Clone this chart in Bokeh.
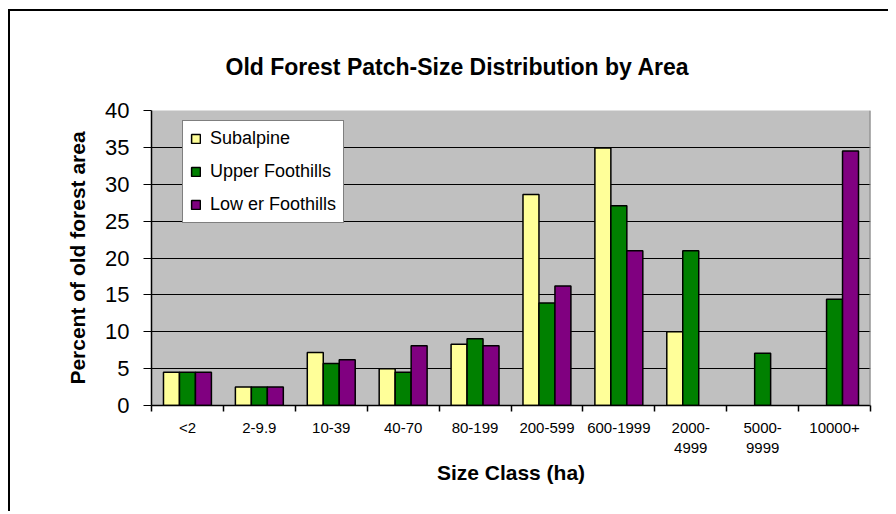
from bokeh.plotting import figure
from bokeh.models import FixedTicker, Legend, LegendItem, ColumnDataSource, Span
from bokeh.embed import file_html
from bokeh.resources import INLINE

categories = ["<2", "2-9.9", "10-39", "40-70", "80-199", "200-599", "600-1999",
              "2000-\n4999", "5000-\n9999", "10000+"]
subalpine = [4.5, 2.5, 7.2, 5.0, 8.3, 28.6, 34.9, 10.0, 0, 0]
upper_foothills = [4.5, 2.5, 5.7, 4.5, 9.05, 13.9, 27.1, 21.0, 7.1, 14.4]
lower_foothills = [4.5, 2.5, 6.2, 8.1, 8.1, 16.2, 21.0, 0, 0, 34.5]
series_names = ["Subalpine", "Upper Foothills", "Low er Foothills"]
series_colors = ["#FFFF99", "#008000", "#800080"]
y_ticks = [0, 5, 10, 15, 20, 25, 30, 35, 40]

FONT = "Liberation Sans"

p = figure(width=878, height=500, output_backend="svg", toolbar_location=None,
           x_range=(0, len(categories)), y_range=(0, 40),
           min_border_left=141, min_border_right=18, min_border_top=99,
           min_border_bottom=106)
p.frame_width = 719
p.frame_height = 295
p.styles = {"border-top": "2px solid black", "border-left": "2px solid black",
            "margin-left": "8px", "margin-top": "9px"}

p.background_fill_color = "#C0C0C0"
p.border_fill_color = "white"
p.outline_line_color = None

p.title.text = "Old Forest Patch-Size Distribution by Area"
p.title.align = "left"
p.title.offset = 74
p.title.text_font = FONT
p.title.text_font_size = "23px"
p.title.text_font_style = "bold"
p.title.text_color = "black"
p.title.standoff = 61

# right edge shading of plot area
p.add_layout(Span(location=len(categories), dimension="height",
                  line_color="#808080", line_width=2))

bar_w = 0.2222
offsets = [-bar_w, 0.0, bar_w]
series = [subalpine, upper_foothills, lower_foothills]
items = []
for name, vals, col, off in zip(series_names, series, series_colors, offsets):
    xs = [i + 0.5 + off for i, v in enumerate(vals) if v > 0]
    ys = [v for v in vals if v > 0]
    src = ColumnDataSource(dict(x=xs, top=ys))
    r = p.vbar(x="x", top="top", width=bar_w, bottom=0, source=src,
               fill_color=col, line_color="black", line_width=1.5)
    items.append(LegendItem(label=name, renderers=[r]))

legend = Legend(items=items, location=(31, 182))
legend.border_line_color = "black"
legend.border_line_width = 1.5
legend.background_fill_color = "white"
legend.background_fill_alpha = 1.0
legend.label_text_font = FONT
legend.label_text_font_size = "18px"
legend.label_text_color = "black"
legend.glyph_width = 11
legend.glyph_height = 11
legend.label_height = 20
legend.spacing = 12
legend.padding = 7
legend.margin = 0
legend.label_standoff = 9
p.add_layout(legend, "center")

# grid
p.xgrid.grid_line_color = None
p.ygrid.grid_line_color = "black"
p.ygrid.grid_line_width = 1
p.ygrid.ticker = FixedTicker(ticks=y_ticks)

# y axis
p.yaxis.ticker = FixedTicker(ticks=y_ticks)
p.yaxis.axis_line_color = "black"
p.yaxis.axis_line_width = 1.5
p.yaxis.major_tick_out = 8
p.yaxis.major_tick_in = 0
p.yaxis.major_tick_line_color = "black"
p.yaxis.minor_tick_line_color = None
p.yaxis.major_label_text_font = FONT
p.yaxis.major_label_text_font_size = "22px"
p.yaxis.major_label_text_color = "black"
p.yaxis.major_label_standoff = 14
p.yaxis.axis_label = "Percent of old forest area"
p.yaxis.axis_label_text_font = FONT
p.yaxis.axis_label_text_font_size = "21px"
p.yaxis.axis_label_text_font_style = "bold"
p.yaxis.axis_label_text_color = "black"
p.yaxis.axis_label_standoff = 13

# x axis
centers = [i + 0.5 for i in range(len(categories))]
bounds = list(range(len(categories) + 1))
p.xaxis.ticker = FixedTicker(ticks=centers, minor_ticks=bounds)
p.xaxis.major_label_overrides = {c: lab for c, lab in zip(centers, categories)}
p.xaxis.major_tick_out = 0
p.xaxis.major_tick_in = 0
p.xaxis.major_tick_line_color = None
p.xaxis.minor_tick_out = 6
p.xaxis.minor_tick_in = 0
p.xaxis.minor_tick_line_color = "black"
p.xaxis.minor_tick_line_width = 1.5
p.xaxis.axis_line_color = "black"
p.xaxis.axis_line_width = 1.5
p.xaxis.major_label_text_font = FONT
p.xaxis.major_label_text_font_size = "15px"
p.xaxis.major_label_text_color = "black"
p.xaxis.major_label_standoff = 7
p.xaxis.axis_label = "Size Class (ha)"
p.xaxis.axis_label_text_font = FONT
p.xaxis.axis_label_text_font_size = "21px"
p.xaxis.axis_label_text_font_style = "bold"
p.xaxis.axis_label_text_color = "black"
p.xaxis.axis_label_standoff = 2

open("out.html", "w").write(file_html(p, INLINE))
